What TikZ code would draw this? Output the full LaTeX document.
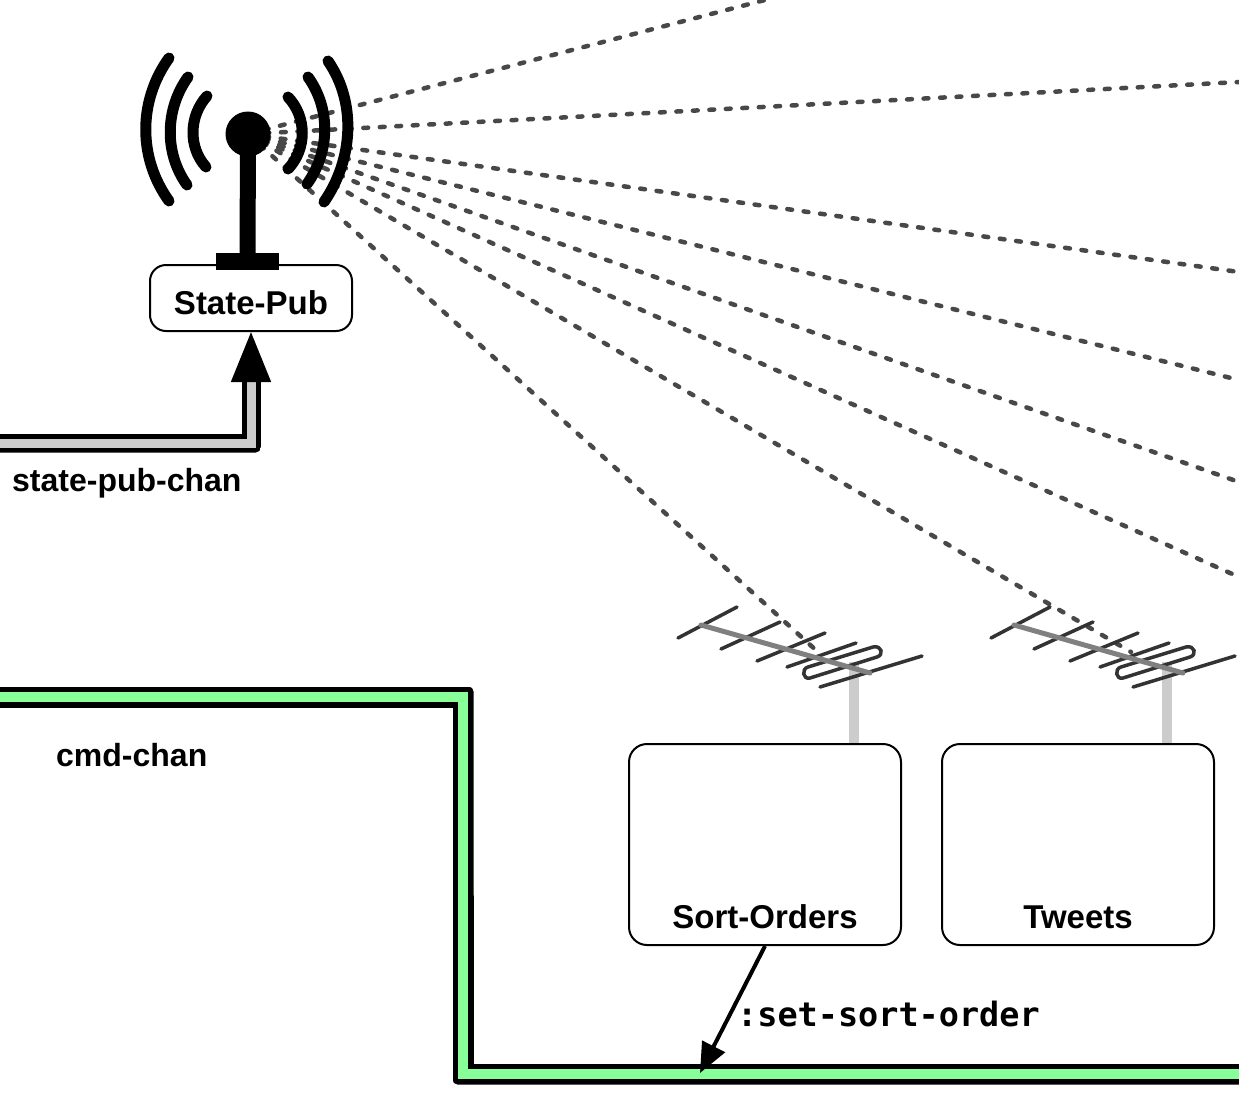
\documentclass[tikz,border=0pt]{standalone}
\usepackage{fontspec}
\setmainfont{Liberation Sans}
\setmonofont{DejaVu Sans Mono}
\usetikzlibrary{positioning}
\usetikzlibrary{arrows.meta}
\definecolor{chanGreen}{HTML}{88FF99}
\definecolor{chanGrey}{HTML}{CCCCCC}
\definecolor{dotGrey}{HTML}{484848}
\definecolor{elemGrey}{HTML}{333333}
\definecolor{boomGrey}{HTML}{808080}

\begin{document}
\begin{tikzpicture}[x=1pt,y=-1pt,
  service/.style = {shape=rectangle, draw, line width=2pt, align=center},
  bigservice/.style = {service, rounded corners=18pt, minimum width=272pt, minimum height=201pt},
  caption/.style = {inner sep=0pt, font=\fontsize{33}{36}\selectfont\bfseries},
  chancaption/.style = {inner sep=0pt, font=\fontsize{32}{36}\selectfont\bfseries},
  chan/.style = {line width=5pt, double distance=9pt},
  radio/.style = {draw=dotGrey, line width=4.5pt, line cap=round, dash pattern=on 4.8pt off 11.7pt},
  wave/.style = {line width=11pt, line cap=round},
  element/.style = {draw=elemGrey, line width=3.5pt, line cap=round},
  boom/.style = {draw=boomGrey, line width=5pt, line cap=round},
  mast/.style = {draw=chanGrey, line width=10pt}]
    \useasboundingbox (0,0) rectangle (1239,1117);
    \coordinate (TowerTop) at (248,134);

    % radio links, under the antennas
    \foreach \i/\target in {a/{765,0},b/{1239,82},c/{1239,272},d/{1239,380},e/{1239,482},f/{1239,577},g/{1131,652},h/{818,652}} {
        \coordinate (Link\i) at (\target);
        \draw[radio] (TowerTop) -- (Link\i);
    }

    % state publisher
    \node[service, rounded corners=16pt, minimum width=202pt, minimum height=66pt, caption, text height=34pt] (StatePub) at (251,298) {State-Pub};
    \node[circle, fill=black, inner sep=0pt, minimum size=45pt] (TowerBall) at (TowerTop) {};
    \node[fill=black, inner sep=0pt, minimum width=63pt, minimum height=17pt] (TowerBase) at (247.5,261.5) {};
    \draw[line width=16pt] (TowerTop) -- (TowerBase);
    \draw[wave] (169,58) .. controls (138,101) and (138,158) .. (169,201);
    \draw[wave] (188,77) .. controls (165,109) and (164,153) .. (187,185);
    \draw[wave] (207,96) .. controls (189,116) and (188,147) .. (206,167);
    \draw[wave] (288,97) .. controls (307,117) and (307,149) .. (288,169);
    \draw[wave] (308,77) .. controls (331,109) and (330,152) .. (307,184);
    \draw[wave] (328,61) .. controls (357,103) and (353,160) .. (324,202);

    % the two subscribers
    \node[bigservice] (SortOrders) at (765,844.5) {};
    \node[bigservice, right=39pt of SortOrders] (Tweets) {};
    \node[caption, above=17pt of SortOrders.south] (SortOrdersText) {Sort-Orders};
    \node[caption, above=17pt of Tweets.south] (TweetsText) {Tweets};

    \foreach \dx/\boxname in {0/SortOrders,313/Tweets} {
        \begin{scope}[xshift=\dx pt]
            \coordinate (MastTop) at (854,662);
            \draw[mast] (MastTop) -- (MastTop |- \boxname.north);
            \draw[element] (678,638) -- (737,607);
            \draw[element] (721,649) -- (780,622);
            \draw[element] (757,661) -- (825,633);
            \draw[element] (787,667) -- (856,643);
            \draw[element] (820,687) -- (922,656);
            \draw[element] (808,667) -- (873,647) .. controls (882,645) and (884,655) .. (877,657) -- (810,678) .. controls (803,680) and (801,669) .. (808,667) -- cycle;
            \draw[boom] (701,625) -- (870,673);
        \end{scope}
    }

    % channels, clipped for their small outer corners
    \coordinate (StateChanStart) at (0,443);
    \begin{scope}
        \clip[rounded corners=5pt] (-30,300) -- (300,300) -- (300,400) -- (260.8,400) -- (260.8,452.5) -- (-30,452.5) -- cycle;
        \draw[chan, double=chanGrey, -{Triangle[length=50pt,width=39pt]}] (StateChanStart) -| (StatePub);
    \end{scope}
    \node[chancaption, anchor=west] (StateChanText) at (12,483) {state-pub-chan};

    \coordinate (CmdChanStart) at (0,697);
    \coordinate (CmdChanCornerA) at (463,697);
    \coordinate (CmdChanCornerB) at (463,1074);
    \coordinate (CmdChanEnd) at (1239,1074);
    \begin{scope}
        \clip[rounded corners=5pt] (-30,686.5) -- (473.5,686.5) -- (473.5,900) -- (1300,900) -- (1300,1084.5) -- (452.5,1084.5) -- (452.5,900) -- (-30,900) -- cycle;
        \draw[chan, line width=5.5pt, double distance=10pt, double=chanGreen] (CmdChanStart) -- (CmdChanCornerA) -- (CmdChanCornerB) -- (CmdChanEnd);
    \end{scope}
    \node[chancaption, anchor=west] (CmdChanText) at (56,755) {cmd-chan};

    \coordinate (SortCmdEnd) at (700,1073);
    \draw[line width=4pt, -{Triangle[length=30pt,width=25pt]}] (SortOrders.south) -- (SortCmdEnd);
    \node[inner sep=0pt, anchor=west, font=\fontsize{33.5}{36}\selectfont\ttfamily\bfseries] (SortCmdText) at (737,1014) {:set-sort-order};
\end{tikzpicture}
\end{document}
